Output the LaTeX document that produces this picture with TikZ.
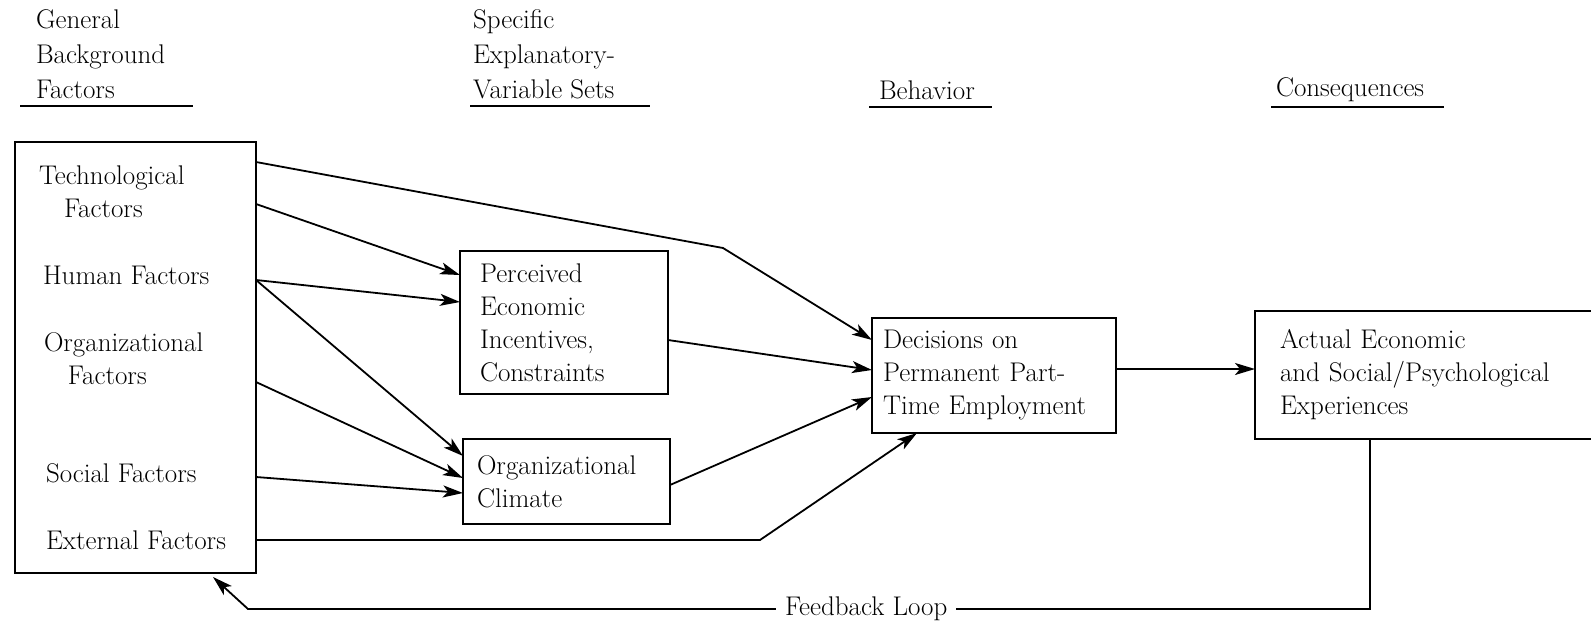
\documentclass[tikz,border=0pt]{standalone}
\usetikzlibrary{arrows.meta,calc}
\begin{document}
\begin{tikzpicture}[x=1pt,y=-1pt, line width=2pt,
  txt/.style={inner sep=0pt, anchor=west, align=left, font=\fontsize{27}{33}\selectfont},
  hdr/.style={inner sep=0pt, anchor=west, align=left, font=\fontsize{27}{35}\selectfont},
  box/.style={draw, outer sep=0pt, inner ysep=0pt, align=left, font=\fontsize{27}{33}\selectfont},
  arr/.style={-{Stealth[length=20pt,width=12pt,inset=5pt]}, line width=1.8pt},
  uline/.style={line width=1.8pt}]
\useasboundingbox (0,0) rectangle (1591,624);
\clip (0,0) rectangle (1591,624);

% headers
\node[hdr] (h1) at (35,54) {General\\Background\\Factors};
\node[hdr] (h2) at (472,54) {Specific\\Explanatory-\\Variable Sets};
\node[hdr] (h3) at (878,90) {Behavior};
\node[hdr] (h4) at (1275,90) {Consequences};
\draw[uline] (20,106) -- (193,106);
\draw[uline] (470,106) -- (650,106);
\draw[uline] (869,107) -- (992,107);
\draw[uline] (1271,107) -- (1444,107);

% boxes
\node[box, minimum width=241pt, minimum height=431pt] (gbf) at (135.5,357.5) {};
\node[box, text width=168pt, inner xsep=20pt, minimum height=143pt] (pec) at (564,322.5)
  {Perceived\\Economic\\Incentives,\\Constraints};
\node[box, text width=179pt, inner xsep=14pt, minimum height=85pt] (oc) at (566.5,481.5)
  {Organizational\\Climate};
\node[box, text width=222pt, inner xsep=11pt, minimum height=115pt] (dec) at (994,375.5)
  {Decisions on\\Permanent Part-\\Time Employment};
\node[box, text width=295pt, inner xsep=25pt, minimum height=128pt] (act) at (1427.5,375)
  {Actual Economic\\and Social/Psychological\\Experiences};

% left box items
\node[txt] (tech) at (38,191.5) {Technological\\\hspace*{25pt}Factors};
\node[txt] (hum) at (42,275) {Human Factors};
\node[txt] (org) at (43,358.5) {Organizational\\\hspace*{24pt}Factors};
\node[txt] (soc) at (45,473) {Social Factors};
\node[txt] (ext) at (45,540) {External Factors};

% connectors
\coordinate (b1) at (723,248);
\coordinate (b2) at (760,540);
\draw[arr] ([yshift=-20pt]gbf.north east) -- (b1) -- ([yshift=-22pt]dec.north west);
\draw[arr] ([yshift=-62pt]gbf.north east) -- ([yshift=-24pt]pec.north west);
\draw[arr] ([yshift=-138pt]gbf.north east) -- ([yshift=-51pt]pec.north west);
\draw[arr] ([yshift=-138pt]gbf.north east) -- ([yshift=-17pt]oc.north west);
\draw[arr] ([yshift=-240pt]gbf.north east) -- ([yshift=-39pt]oc.north west);
\draw[arr] ([yshift=-335pt]gbf.north east) -- ([yshift=-54pt]oc.north west);
\draw[arr] ([yshift=-398pt]gbf.north east) -- (b2) -- ([xshift=45pt]dec.south west);
\draw[arr] ([yshift=-89pt]pec.north east) -- ([yshift=-52pt]dec.north west);
\draw[arr] ([yshift=-46pt]oc.north east) -- ([yshift=-79pt]dec.north west);
\coordinate (da) at ([yshift=6.5pt]dec.east);
\draw[arr] (da) -- (da -| act.west);

% feedback loop
\coordinate (f0) at ([xshift=115pt]act.south west);
\coordinate (f1) at (1370,609);
\coordinate (f2) at (248,609);
\draw[arr] (f0) -- (f1) -- node[pos=0.449, fill=white, inner xsep=9pt, inner ysep=2pt,
  font=\fontsize{27}{33}\selectfont] (fbl) {Feedback Loop} (f2)
  -- ([xshift=198pt,yshift=-4pt]gbf.south west);
\end{tikzpicture}
\end{document}
